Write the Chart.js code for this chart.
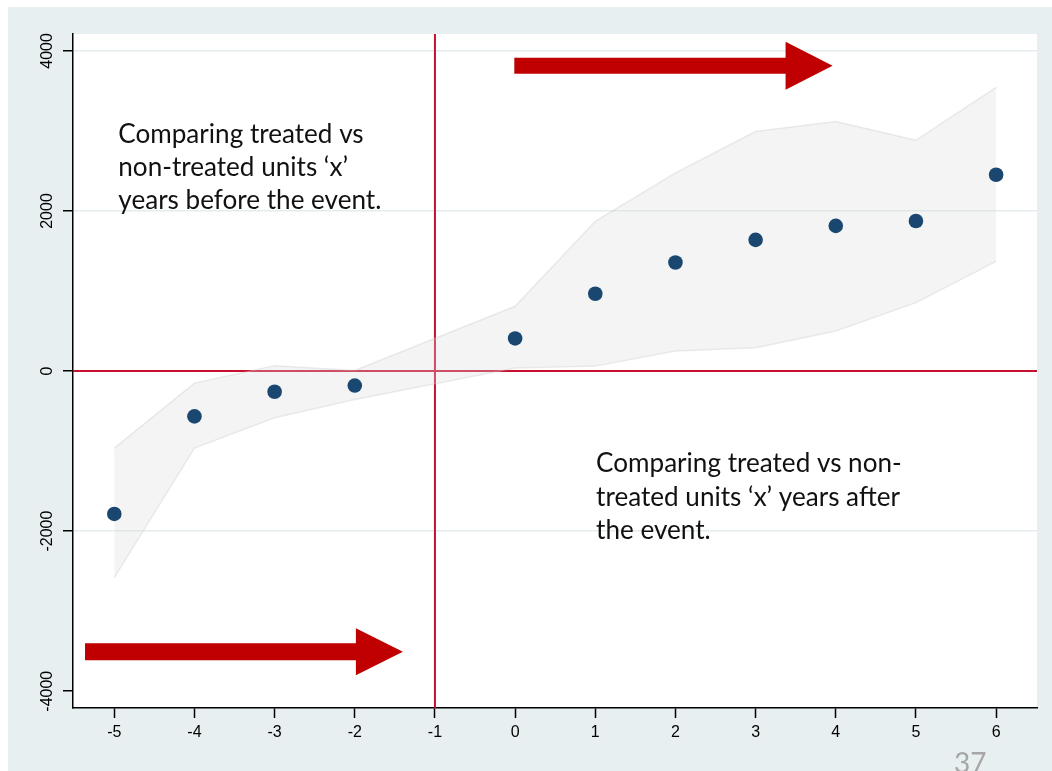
<!DOCTYPE html>
<html>
<head>
<meta charset="utf-8">
<script src="https://cdn.jsdelivr.net/npm/chart.js@4.4.1/dist/chart.umd.min.js"></script>
<style>
html, body { margin: 0; padding: 0; background: #fff; overflow: hidden; }
#panel { position: absolute; left: 8px; top: 7px; width: 1044px; height: 764px; background: #e8eff1; overflow: hidden; }
#chart { display: block; }
</style>
</head>
<body>
<div id="panel"><canvas id="chart" width="1044" height="764"></canvas></div>
<script>
// event-study estimates
const eventTime = [-5, -4, -3, -2, 0, 1, 2, 3, 4, 5, 6];
const estimate = [-1785, -566, -258, -181, 408, 966, 1357, 1640, 1815, 1875, 2453];
const ciLower = [-2582, -962, -584, -356, 38, 62, 250, 292, 500, 855, 1370];
const ciUpper = [-962, -150, 68, 8, 810, 1872, 2476, 2993, 3118, 2884, 3546];

const xTicks = [-5, -4, -3, -2, -1, 0, 1, 2, 3, 4, 5, 6];
const yTicks = [-4000, -2000, 0, 2000, 4000];

const eventYear = -1;
const zeroLevel = 0;

const notesBefore = ['Comparing treated vs', 'non-treated units \u2018x\u2019', 'years before the event.'];
const notesAfter = ['Comparing treated vs non-', 'treated units \u2018x\u2019 years after', 'the event.'];
const pageNumber = '37';

const red = '#c8102e';
const arrowRed = '#c00000';
const navy = '#1a476f';
const tickFont = { family: "'Liberation Sans', Arial, sans-serif", size: 16 };

function pts(ys) {
    return eventTime.map((x, i) => ({ x: x, y: ys[i] }));
}

function drawArrow(ctx, x0, x1, y, shaft, head, headLen) {
    ctx.beginPath();
    ctx.moveTo(x0, y - shaft / 2);
    ctx.lineTo(x1 - headLen, y - shaft / 2);
    ctx.lineTo(x1 - headLen, y - head / 2);
    ctx.lineTo(x1, y);
    ctx.lineTo(x1 - headLen, y + head / 2);
    ctx.lineTo(x1 - headLen, y + shaft / 2);
    ctx.lineTo(x0, y + shaft / 2);
    ctx.closePath();
    ctx.fill();
}

const slideNotes = {
    id: 'slideNotes',
    beforeDraw(chart) {
        const { ctx, chartArea: a } = chart;
        ctx.save();
        ctx.fillStyle = '#fff';
        ctx.fillRect(a.left, a.top, a.right - a.left, a.bottom - a.top);
        ctx.restore();
    },
    beforeDatasetsDraw(chart) {
        const { ctx, chartArea: a, scales: { x, y } } = chart;
        ctx.save();
        ctx.strokeStyle = red;
        ctx.lineWidth = 2;
        const py = y.getPixelForValue(zeroLevel);
        const px = x.getPixelForValue(eventYear);
        ctx.beginPath();
        ctx.moveTo(a.left, py);
        ctx.lineTo(a.right, py);
        ctx.moveTo(px, a.top);
        ctx.lineTo(px, a.bottom);
        ctx.stroke();
        ctx.restore();
    },
    afterDatasetsDraw(chart) {
        const { ctx, scales: { x, y } } = chart;
        ctx.save();
        ctx.fillStyle = arrowRed;
        drawArrow(ctx, x.getPixelForValue(-0.01), x.getPixelForValue(3.96), y.getPixelForValue(3814), 16, 48, 47);
        drawArrow(ctx, x.getPixelForValue(-5.365), x.getPixelForValue(-1.40), y.getPixelForValue(-3508), 17, 47, 47);

        // pick a size that gives the same line width as the slide text
        ctx.font = '28px Lato';
        const size = 28 * 245 / ctx.measureText(notesBefore[0]).width;
        ctx.font = size.toFixed(1) + 'px Lato';
        ctx.fillStyle = '#111';
        ctx.textBaseline = 'alphabetic';
        ctx.textAlign = 'left';
        let bx = x.getPixelForValue(-4.95), by = y.getPixelForValue(2853);
        notesBefore.forEach((t, i) => ctx.fillText(t, bx, by + i * 33));
        bx = x.getPixelForValue(1.01); by = y.getPixelForValue(-1267);
        notesAfter.forEach((t, i) => ctx.fillText(t, bx, by + i * 33.5));
        ctx.restore();
    },
    afterDraw(chart) {
        const ctx = chart.ctx;
        ctx.save();
        ctx.font = '28px Lato';
        ctx.fillStyle = '#a6a6a6';
        ctx.textBaseline = 'alphabetic';
        ctx.fillText(pageNumber, 946, 766);
        ctx.restore();
    }
};

const ctx = document.getElementById('chart');

new Chart(ctx, {
    type: 'scatter',
    data: {
        datasets: [
            {
                data: pts(estimate),
                backgroundColor: navy,
                borderColor: navy,
                borderWidth: 0,
                pointRadius: 7.3,
                pointHoverRadius: 7.3,
                order: 0
            },
            {
                data: pts(ciLower),
                showLine: true,
                pointRadius: 0,
                borderColor: 'rgba(200,200,200,0.35)',
                borderWidth: 1.5,
                fill: false,
                order: 2
            },
            {
                data: pts(ciUpper),
                showLine: true,
                pointRadius: 0,
                borderColor: 'rgba(200,200,200,0.35)',
                borderWidth: 1.5,
                backgroundColor: 'rgba(218,218,218,0.3)',
                fill: '-1',
                order: 1
            }
        ]
    },
    options: {
        responsive: false,
        animation: false,
        devicePixelRatio: 1,
        layout: {
            padding: { top: 27, right: 15, left: 0, bottom: 0 }
        },
        scales: {
            x: {
                type: 'linear',
                min: -5.515,
                max: 6.51,
                afterBuildTicks: s => { s.ticks = xTicks.map(v => ({ value: v })); },
                afterFit: s => { s.height = 63; },
                grid: {
                    drawOnChartArea: false,
                    tickLength: 10,
                    tickColor: '#000',
                    tickWidth: 1.5
                },
                border: { color: '#000', width: 1.5 },
                ticks: {
                    callback: v => String(v),
                    color: '#000',
                    font: tickFont,
                    padding: 5,
                    maxRotation: 0,
                    autoSkip: false
                }
            },
            y: {
                min: -4210,
                max: 4212,
                afterBuildTicks: s => { s.ticks = yTicks.map(v => ({ value: v })); },
                afterFit: s => { s.width = 65; },
                grid: {
                    color: c => (c.tick && c.tick.value === -4000) ? 'rgba(0,0,0,0)' : '#e3ecee',
                    lineWidth: 1.5,
                    tickLength: 10,
                    tickColor: '#000',
                    tickWidth: 1.5
                },
                border: { color: '#000', width: 1.5 },
                ticks: {
                    callback: v => String(v),
                    color: '#000',
                    font: tickFont,
                    minRotation: 90,
                    maxRotation: 90,
                    crossAlign: 'center',
                    padding: -5,
                    autoSkip: false
                }
            }
        },
        plugins: {
            legend: { display: false },
            tooltip: { enabled: false }
        }
    },
    plugins: [slideNotes]
});
</script>
</body>
</html>
